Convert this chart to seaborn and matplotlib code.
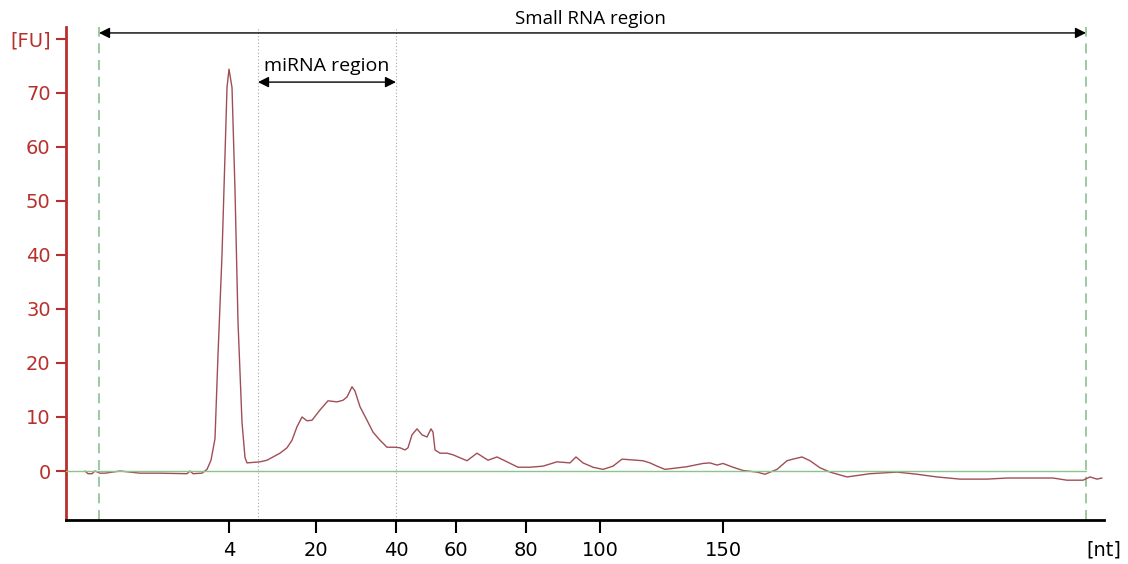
import matplotlib
matplotlib.use("Agg")
import matplotlib.pyplot as plt
import seaborn as sns
import pandas as pd

# Electropherogram trace (position along the run, fluorescence units)
pos = [85, 88, 92, 95, 100, 105, 120, 140, 160, 187,
       190, 193, 202, 207, 211, 215, 218, 222, 225, 227,
       229, 232, 235, 238, 242, 245, 247, 260, 267, 273,
       280, 287, 292, 297, 302, 307, 312, 320, 328, 337,
       343, 347, 352, 355, 360, 367, 373, 380, 387, 395,
       400, 405, 408, 412, 417, 422, 427, 431, 433, 435,
       440, 447, 453, 467, 477, 488, 497, 507, 518, 530,
       543, 557, 570, 576, 583, 593, 603, 613, 622, 643,
       650, 657, 665, 687, 703, 710, 717, 723, 733, 743,
       757, 765, 777, 787, 793, 802, 810, 820, 830, 847,
       870, 897, 917, 937, 960, 987, 1007, 1053, 1067, 1083,
       1090, 1097, 1102]
fu = [0.0, -0.5, -0.5, 0.0, -0.4, -0.4, 0.0, -0.4, -0.4, -0.5,
      0.0, -0.5, -0.4, 0.3, 2.0, 6.0, 21.5, 40.0, 58.5, 71.0,
      74.4, 71.0, 52.0, 27.6, 9.0, 2.5, 1.5, 1.7, 2.0, 2.6,
      3.3, 4.3, 5.7, 8.2, 10.0, 9.3, 9.4, 11.3, 13.0, 12.8,
      13.1, 13.7, 15.6, 14.8, 11.9, 9.4, 7.2, 5.7, 4.4, 4.4,
      4.3, 3.9, 4.3, 6.7, 7.8, 6.7, 6.3, 7.8, 7.2, 3.9,
      3.3, 3.3, 3.0, 1.9, 3.3, 2.0, 2.6, 1.7, 0.7, 0.7,
      0.9, 1.7, 1.5, 2.6, 1.5, 0.7, 0.3, 0.9, 2.2, 1.9,
      1.5, 0.9, 0.3, 0.8, 1.4, 1.5, 1.1, 1.4, 0.7, 0.1,
      -0.2, -0.6, 0.3, 1.9, 2.2, 2.6, 1.9, 0.6, -0.2, -1.1,
      -0.5, -0.2, -0.6, -1.1, -1.5, -1.5, -1.3, -1.3, -1.7, -1.7,
      -1.1, -1.5, -1.3]

# size ladder ticks
nt_pos = [229, 316, 396, 456, 526, 600, 723]
nt_labels = ["4", "20", "40", "60", "80", "100", "150"]
fu_ticks = [0, 10, 20, 30, 40, 50, 60, 70, 80]
fu_labels = ["0", "10", "20", "30", "40", "50", "60", "70", "[FU]"]

# region markers
small_rna = (99, 1086)
mirna = (258, 396)

df = pd.DataFrame({"pos": pos, "fu": fu})

sns.set_style("white")
red = "#b8302c"

fig = plt.figure(figsize=(11.28, 5.64), dpi=100)
ax = fig.add_axes([66 / 1128, 44 / 564, 1038 / 1128, 493 / 564])

sns.lineplot(data=df, x="pos", y="fu", ax=ax, color="#a04e55", linewidth=1.0,
             estimator=None, zorder=3)

ax.set_xlim(66, 1104)
ax.set_ylim(-9.07, 82.2)

# baseline and region boundaries
ax.plot([66, small_rna[1]], [0, 0], color="#8cc58c", lw=1.0, zorder=4)
for x in small_rna:
    ax.axvline(x, color="#8fbf8f", lw=1.2, ls=(0, (6, 4)), zorder=2)
for x in mirna:
    ax.axvline(x, color="#a8a8a8", lw=0.8, ls=(0, (1, 2)), zorder=2)

ax.annotate("", xy=(small_rna[0], 81.1), xytext=(small_rna[1], 81.1),
            arrowprops=dict(arrowstyle="<|-|>", color="black", lw=1.0,
                            mutation_scale=16, shrinkA=0, shrinkB=0))
ax.text(590, 83.6, "Small RNA region", ha="center", va="center", color="black",
        fontsize=13.5, family="Open Sans", clip_on=False)
ax.annotate("", xy=(mirna[0], 72.0), xytext=(mirna[1], 72.0),
            arrowprops=dict(arrowstyle="<|-|>", color="black", lw=1.0,
                            mutation_scale=16, shrinkA=0, shrinkB=0))
ax.text(327, 74.9, "miRNA region", ha="center", va="center", color="black",
        fontsize=14, family="Open Sans")

ax.set_xticks(nt_pos)
ax.set_xticklabels(nt_labels)
ax.set_yticks(fu_ticks)
ax.set_yticklabels(fu_labels)
ax.tick_params(axis="x", length=9, width=1.5, color="black", labelcolor="black",
               labelsize=14, pad=6, direction="out", bottom=True)
ax.tick_params(axis="y", length=7, width=1.5, color=red, labelcolor=red,
               labelsize=14, pad=4, direction="out", left=True)

ax.text(1104, -0.061, "[nt]", transform=ax.get_xaxis_transform(), color="black",
        ha="center", va="center", fontsize=14, clip_on=False)

for s in ["top", "right"]:
    ax.spines[s].set_visible(False)
ax.spines["left"].set_color(red)
ax.spines["left"].set_linewidth(2)
ax.spines["bottom"].set_color("black")
ax.spines["bottom"].set_linewidth(2)
ax.set_xlabel("")
ax.set_ylabel("")

fig.savefig("out.png", dpi=100)
